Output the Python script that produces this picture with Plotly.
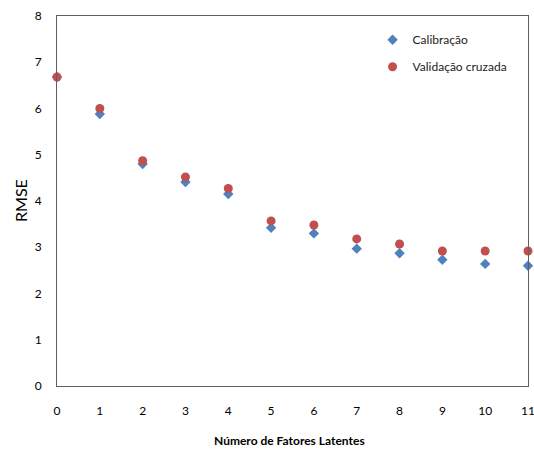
import plotly.graph_objects as go

fatores = [0, 1, 2, 3, 4, 5, 6, 7, 8, 9, 10, 11]
calibracao = [6.68, 5.88, 4.80, 4.41, 4.15, 3.42, 3.30, 2.97, 2.87, 2.73, 2.64, 2.60]
validacao = [6.68, 6.00, 4.87, 4.52, 4.27, 3.57, 3.48, 3.18, 3.07, 2.92, 2.92, 2.92]
y_ticks = [0, 1, 2, 3, 4, 5, 6, 7, 8]

font_family = "Lato, Open Sans, DejaVu Sans, sans-serif"

W, H = 534, 450
L, R, T, B = 57, 6, 16, 64
pw, ph = W - L - R, H - T - B

fig = go.Figure()
fig.add_trace(go.Scatter(
    x=fatores, y=calibracao, mode="markers", name="Calibração",
    legendgroup="a",
    marker=dict(symbol="diamond", size=8, color="#4F81BD"),
    cliponaxis=False,
))
fig.add_trace(go.Scatter(
    x=fatores, y=validacao, mode="markers", name="Validação cruzada",
    legendgroup="b",
    marker=dict(symbol="circle", size=9, color="#C0504D"),
    cliponaxis=False,
))

fig.add_annotation(text="RMSE", xref="paper", yref="paper",
                   x=(20 - L) / pw, y=0.5, textangle=-90, showarrow=False,
                   font=dict(size=16), xanchor="center", yanchor="middle")
fig.add_annotation(text="<b>Número de Fatores Latentes</b>", xref="paper", yref="paper",
                   x=(289 - L) / pw, y=-(440 - (H - B)) / ph, showarrow=False,
                   font=dict(size=12), xanchor="center", yanchor="middle")

axis_line = dict(showline=True, linecolor="#5f5f5f", linewidth=1, mirror=True)

fig.update_layout(
    width=W, height=H,
    margin=dict(l=L, r=R, t=T, b=B),
    paper_bgcolor="white", plot_bgcolor="white",
    font=dict(family=font_family, size=12, color="#000000"),
    showlegend=True,
    legend=dict(
        x=0.67, y=0.975, xanchor="left", yanchor="top",
        bgcolor="rgba(0,0,0,0)", font=dict(size=12, color="#222222"),
        tracegroupgap=8, itemwidth=30,
    ),
    xaxis=dict(
        range=[0, 11], tickmode="array", tickvals=fatores,
        showgrid=False, zeroline=False, automargin=False,
        ticks="", ticklabelstandoff=14, ticklabeloverflow="allow",
        tickfont=dict(size=12),
        **axis_line,
    ),
    yaxis=dict(
        range=[0, 8], tickmode="array", tickvals=y_ticks,
        showgrid=False, zeroline=False, automargin=False,
        ticks="", ticklabelstandoff=12,
        tickfont=dict(size=12),
        **axis_line,
    ),
)

fig.write_html(
    "out.html",
    config={"displayModeBar": False},
    post_script="document.body.style.margin='0';document.body.style.overflow='hidden';",
)
